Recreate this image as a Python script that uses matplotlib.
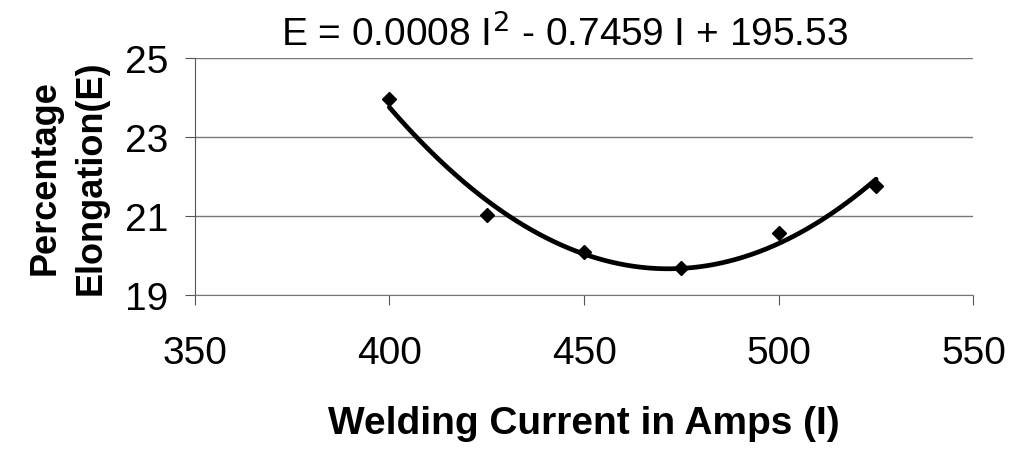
import numpy as np
import matplotlib.pyplot as plt

plt.rcParams['font.family'] = ['Liberation Sans', 'DejaVu Sans']

current = [400, 425, 450, 475, 500, 525]
elongation = [23.95, 21.03, 20.09, 19.68, 20.57, 21.76]
x_ticks = [350, 400, 450, 500, 550]
y_ticks = [19, 21, 23, 25]

# quadratic trendline through the points
coef = np.polyfit(current, elongation, 2)
xs = np.linspace(min(current), max(current), 200)
ys = np.polyval(coef, xs)

fig = plt.figure(figsize=(10.14, 4.56), dpi=100)
ax = fig.add_axes([0.192, 0.351, 0.768, 0.52])

ax.plot(xs, ys, color='black', linewidth=3.4, solid_capstyle='round')
ax.plot(current, elongation, linestyle='none', marker='D', markersize=7.5,
        color='black')

ax.set_xlim(350, 550)
ax.set_ylim(19, 25)
ax.set_xticks(x_ticks)
ax.set_yticks(y_ticks)
ax.grid(axis='y', color='#777777', linewidth=1)
ax.set_axisbelow(True)

for s in ['top', 'right']:
    ax.spines[s].set_visible(False)
ax.spines['left'].set_color('#555555')
ax.spines['bottom'].set_color('#777777')
ax.tick_params(axis='both', labelsize=28, length=7, color='#555555')
ax.tick_params(axis='x', pad=22)
ax.tick_params(axis='y', pad=12)

ax.set_xlabel('Welding Current in Amps (I)', fontsize=28, fontweight='heavy',
              labelpad=24)
ax.set_ylabel('Percentage\nElongation(E)', fontsize=26, fontweight='heavy',
              labelpad=12, linespacing=1.4)

fig.text(0.557, 0.925, r'E = 0.0008 I$^2$ - 0.7459 I + 195.53', fontsize=28,
         ha='center', va='center')

fig.savefig('out.png')
